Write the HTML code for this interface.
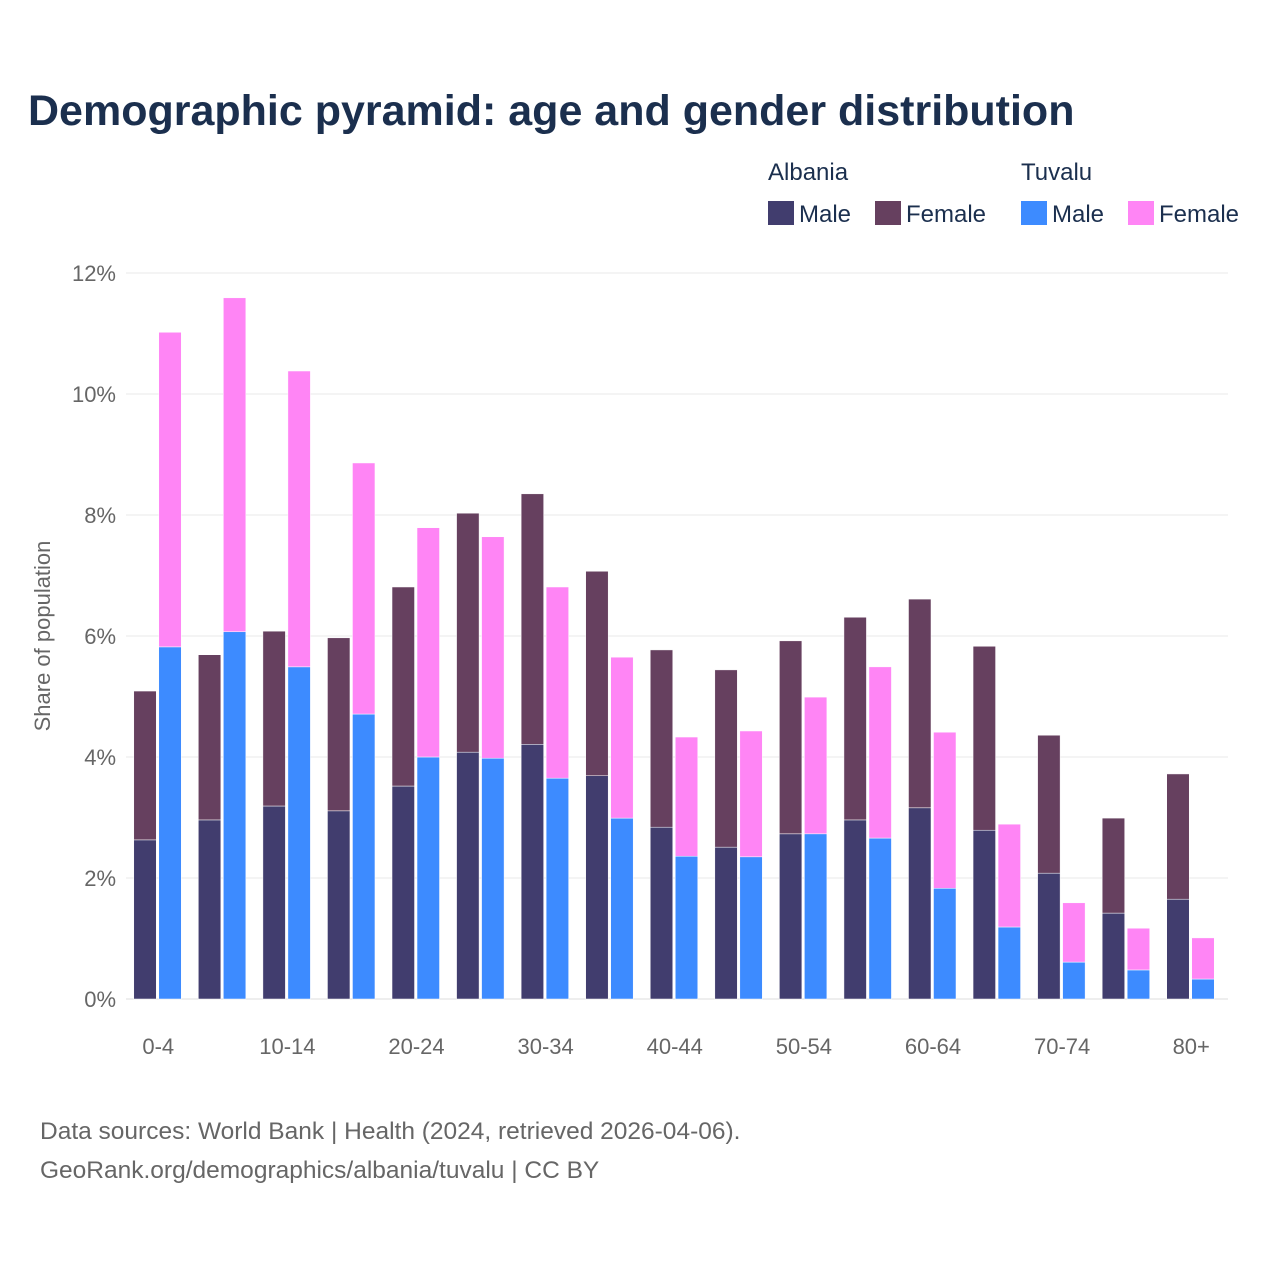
<!DOCTYPE html>
<html><head><meta charset="utf-8"><style>
body{margin:0;background:#fff;font-family:"Liberation Sans",sans-serif;}
#wrap{position:relative;width:1280px;height:1280px;}
</style></head><body>
<div id="wrap">
<svg id="chart" width="1280" height="1280" xmlns="http://www.w3.org/2000/svg">
<text x="28" y="125" font-size="43" font-weight="bold" fill="#1b2f4e" font-family="Liberation Sans, sans-serif">Demographic pyramid: age and gender distribution</text>
<g font-family="Liberation Sans, sans-serif" font-size="24" fill="#1b2f4e">
<text x="768" y="180">Albania</text>
<text x="1021" y="180">Tuvalu</text>
<rect x="768" y="201" width="26" height="24" fill="#413d6e"/>
<text x="799" y="222">Male</text>
<rect x="875" y="201" width="26" height="24" fill="#66405f"/>
<text x="906" y="222">Female</text>
<rect x="1021" y="201" width="26" height="24" fill="#3d8bff"/>
<text x="1052" y="222">Male</text>
<rect x="1128" y="201" width="26" height="24" fill="#ff85f5"/>
<text x="1159" y="222">Female</text>
</g>
<g id="grid"></g><g id="bars"></g><g id="labels"></g>
<text transform="translate(50,636) rotate(-90)" text-anchor="middle" font-size="22" fill="#666" font-family="Liberation Sans, sans-serif">Share of population</text>
<text x="40" y="1139" font-size="24.5" fill="#666" font-family="Liberation Sans, sans-serif">Data sources: World Bank | Health (2024, retrieved 2026-04-06).</text>
<text x="40" y="1178" font-size="24.5" fill="#666" font-family="Liberation Sans, sans-serif">GeoRank.org/demographics/albania/tuvalu | CC BY</text>
</svg>
</div>
<script>
const categories=["0-4","5-9","10-14","15-19","20-24","25-29","30-34","35-39","40-44","45-49","50-54","55-59","60-64","65-69","70-74","75-79","80+"];
const albaniaMale=[2.63,2.96,3.19,3.11,3.52,4.08,4.21,3.69,2.84,2.51,2.73,2.96,3.16,2.79,2.08,1.42,1.65];
const albaniaFemale=[2.46,2.73,2.89,2.86,3.29,3.95,4.14,3.38,2.93,2.93,3.19,3.35,3.45,3.04,2.28,1.57,2.07];
const tuvaluMale=[5.82,6.07,5.49,4.71,4.00,3.98,3.65,2.99,2.36,2.35,2.73,2.66,1.83,1.19,0.61,0.48,0.33];
const tuvaluFemale=[5.20,5.52,4.89,4.15,3.79,3.66,3.16,2.66,1.97,2.08,2.26,2.83,2.58,1.70,0.98,0.69,0.68];
const yTicks=[0,2,4,6,8,10,12];
const NS="http://www.w3.org/2000/svg";
const x0=126,x1=1228,y0=999,yTop=273,yMax=12;
const band=64.56;
function y(v){return y0-(v/yMax)*(y0-yTop);}
function bandX(i){return x0+i*band;}
function mk(tag,attrs,parent){const e=document.createElementNS(NS,tag);for(const k in attrs)e.setAttribute(k,attrs[k]);parent.appendChild(e);return e;}
const grid=document.getElementById('grid'),bars=document.getElementById('bars'),labels=document.getElementById('labels');
yTicks.forEach(t=>{
 const l=mk('line',{x1:x0,x2:x1,y1:y(t),y2:y(t),stroke:t===0?'#ddd':'#e8e8e8','stroke-width':1},grid);
 
 
 const tx=mk('text',{x:116,y:y(t)+8,'text-anchor':'end','font-size':22,fill:'#666','font-family':'Liberation Sans, sans-serif'},labels);
 tx.textContent=t+'%';
 
 
});
const bw=22.5;
categories.forEach((c,i)=>{
 const cx=bandX(i)+band/2;
 const specs=[[cx-24.5,albaniaMale[i],0,'#413d6e','albania-male'],[cx-24.5,albaniaFemale[i],albaniaMale[i],'#66405f','albania-female'],[cx+0.5,tuvaluMale[i],0,'#3d8bff','tuvalu-male'],[cx+0.5,tuvaluFemale[i],tuvaluMale[i],'#ff85f5','tuvalu-female']];
 specs.forEach(s=>{
  const top=y(s[1]+s[2]),bot=y(s[2]);
  const r=mk('rect',{x:s[0],y:top,width:bw,height:bot-top,fill:s[3],stroke:'#fff','stroke-width':0.5},bars);
  
  
 });
 if(i%2===0){
  const tx=mk('text',{x:cx,y:1054,'text-anchor':'middle','font-size':22,fill:'#666','font-family':'Liberation Sans, sans-serif'},labels);
  tx.textContent=c;
  
  
 }
});
</script>
</body></html>
